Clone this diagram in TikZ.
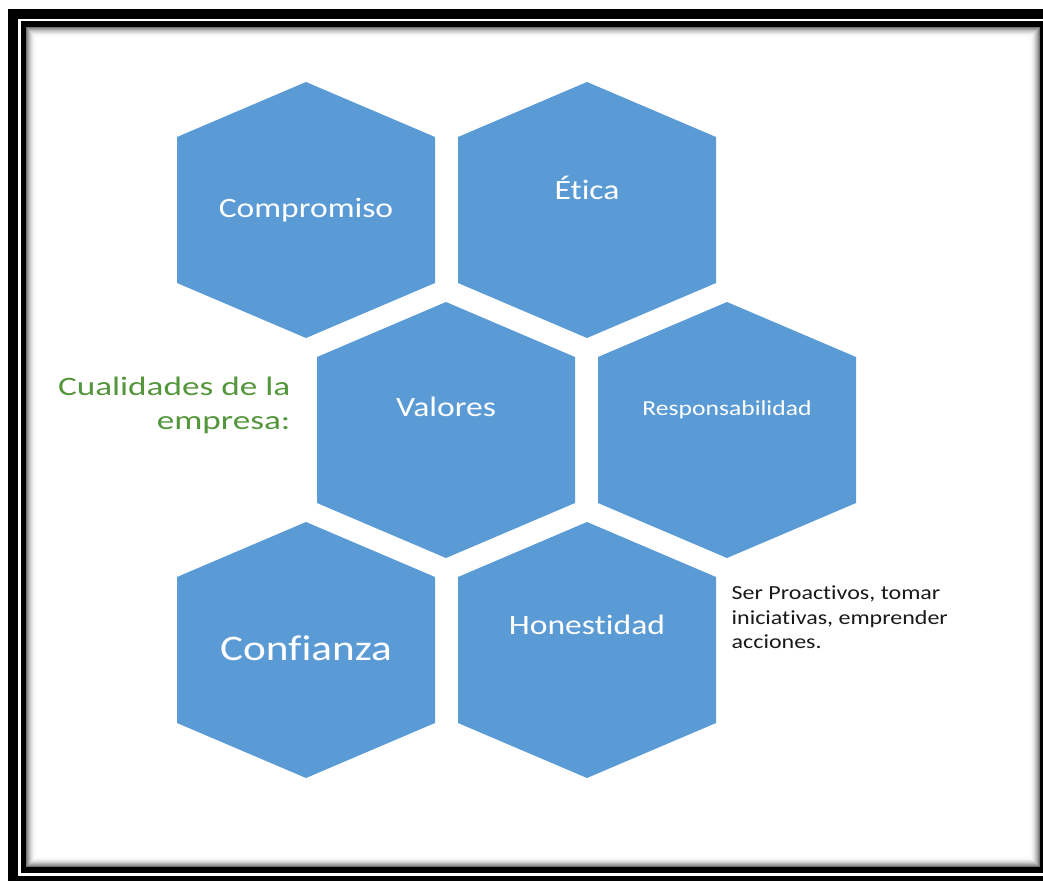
\documentclass[tikz,border=0pt]{standalone}
\usepackage{fontspec}
\setmainfont{Carlito}[FakeStretch=1.2,Ligatures=NoCommon]
\newfontfamily\widefont{Carlito}[FakeStretch=1.32,Ligatures=NoCommon]
\usepackage{tikz}

\definecolor{hexblue}{RGB}{91,155,213}
\definecolor{labelgreen}{RGB}{84,150,60}

\tikzset{
  hexcell/.style={fill=hexblue},
  hextext/.style={text=white,font=\fontsize{21}{25}\selectfont},
  notetext/.style={text=black!90,align=left,font=\fontsize{15}{18.5}\selectfont}
}

\begin{document}
\begin{tikzpicture}[x=0.75pt,y=-0.75pt]
\useasboundingbox (0,0) rectangle (1043,881);
% double frame with a soft inner shadow
\draw[line width=7.5pt] (13,14) rectangle (1054,881);
\draw[line width=4.2pt] (23.5,24) rectangle (1043,870);
\foreach \k/\g in {1/55,2/44,3/35,4/27,5/20,6/14,7/9,8/5,9/2}
  \draw[black!\g,line width=0.8pt] (26+\k,27+\k) rectangle (1040-\k,867-\k);
% honeycomb
\foreach \x/\y in {306/210,587/210,446/430,727/430,306/650,587/650}
  \fill[hexcell] (\x,\y) ++(0,-128) -- ++(129,55) -- ++(0,146)
    -- ++(-129,55) -- ++(-129,-55) -- ++(0,-146) -- cycle;
\node[hextext] (compromiso) at (306,210) {Compromiso};
\node[hextext] (etica) at (587,188) {Ética};
\node[hextext] (valores) at (446,407) {Valores};
\node[hextext,font=\fontsize{16}{19}\selectfont] (responsabilidad) at (727,410) {Responsabilidad};
\node[hextext,font=\fontsize{27}{32}\selectfont] (confianza) at (306,648) {Confianza};
\node[hextext] (honestidad) at (587,625) {Honestidad};
% side labels
\node[text=labelgreen,align=right,anchor=north east,font=\widefont\fontsize{20}{25.5}\selectfont]
  (cualidades) at (295,372) {Cualidades de la\\empresa:};
\node[notetext,anchor=north west] (proactivos) at (727,581)
  {Ser Proactivos, tomar\\iniciativas, emprender\\acciones.};
\end{tikzpicture}
\end{document}
